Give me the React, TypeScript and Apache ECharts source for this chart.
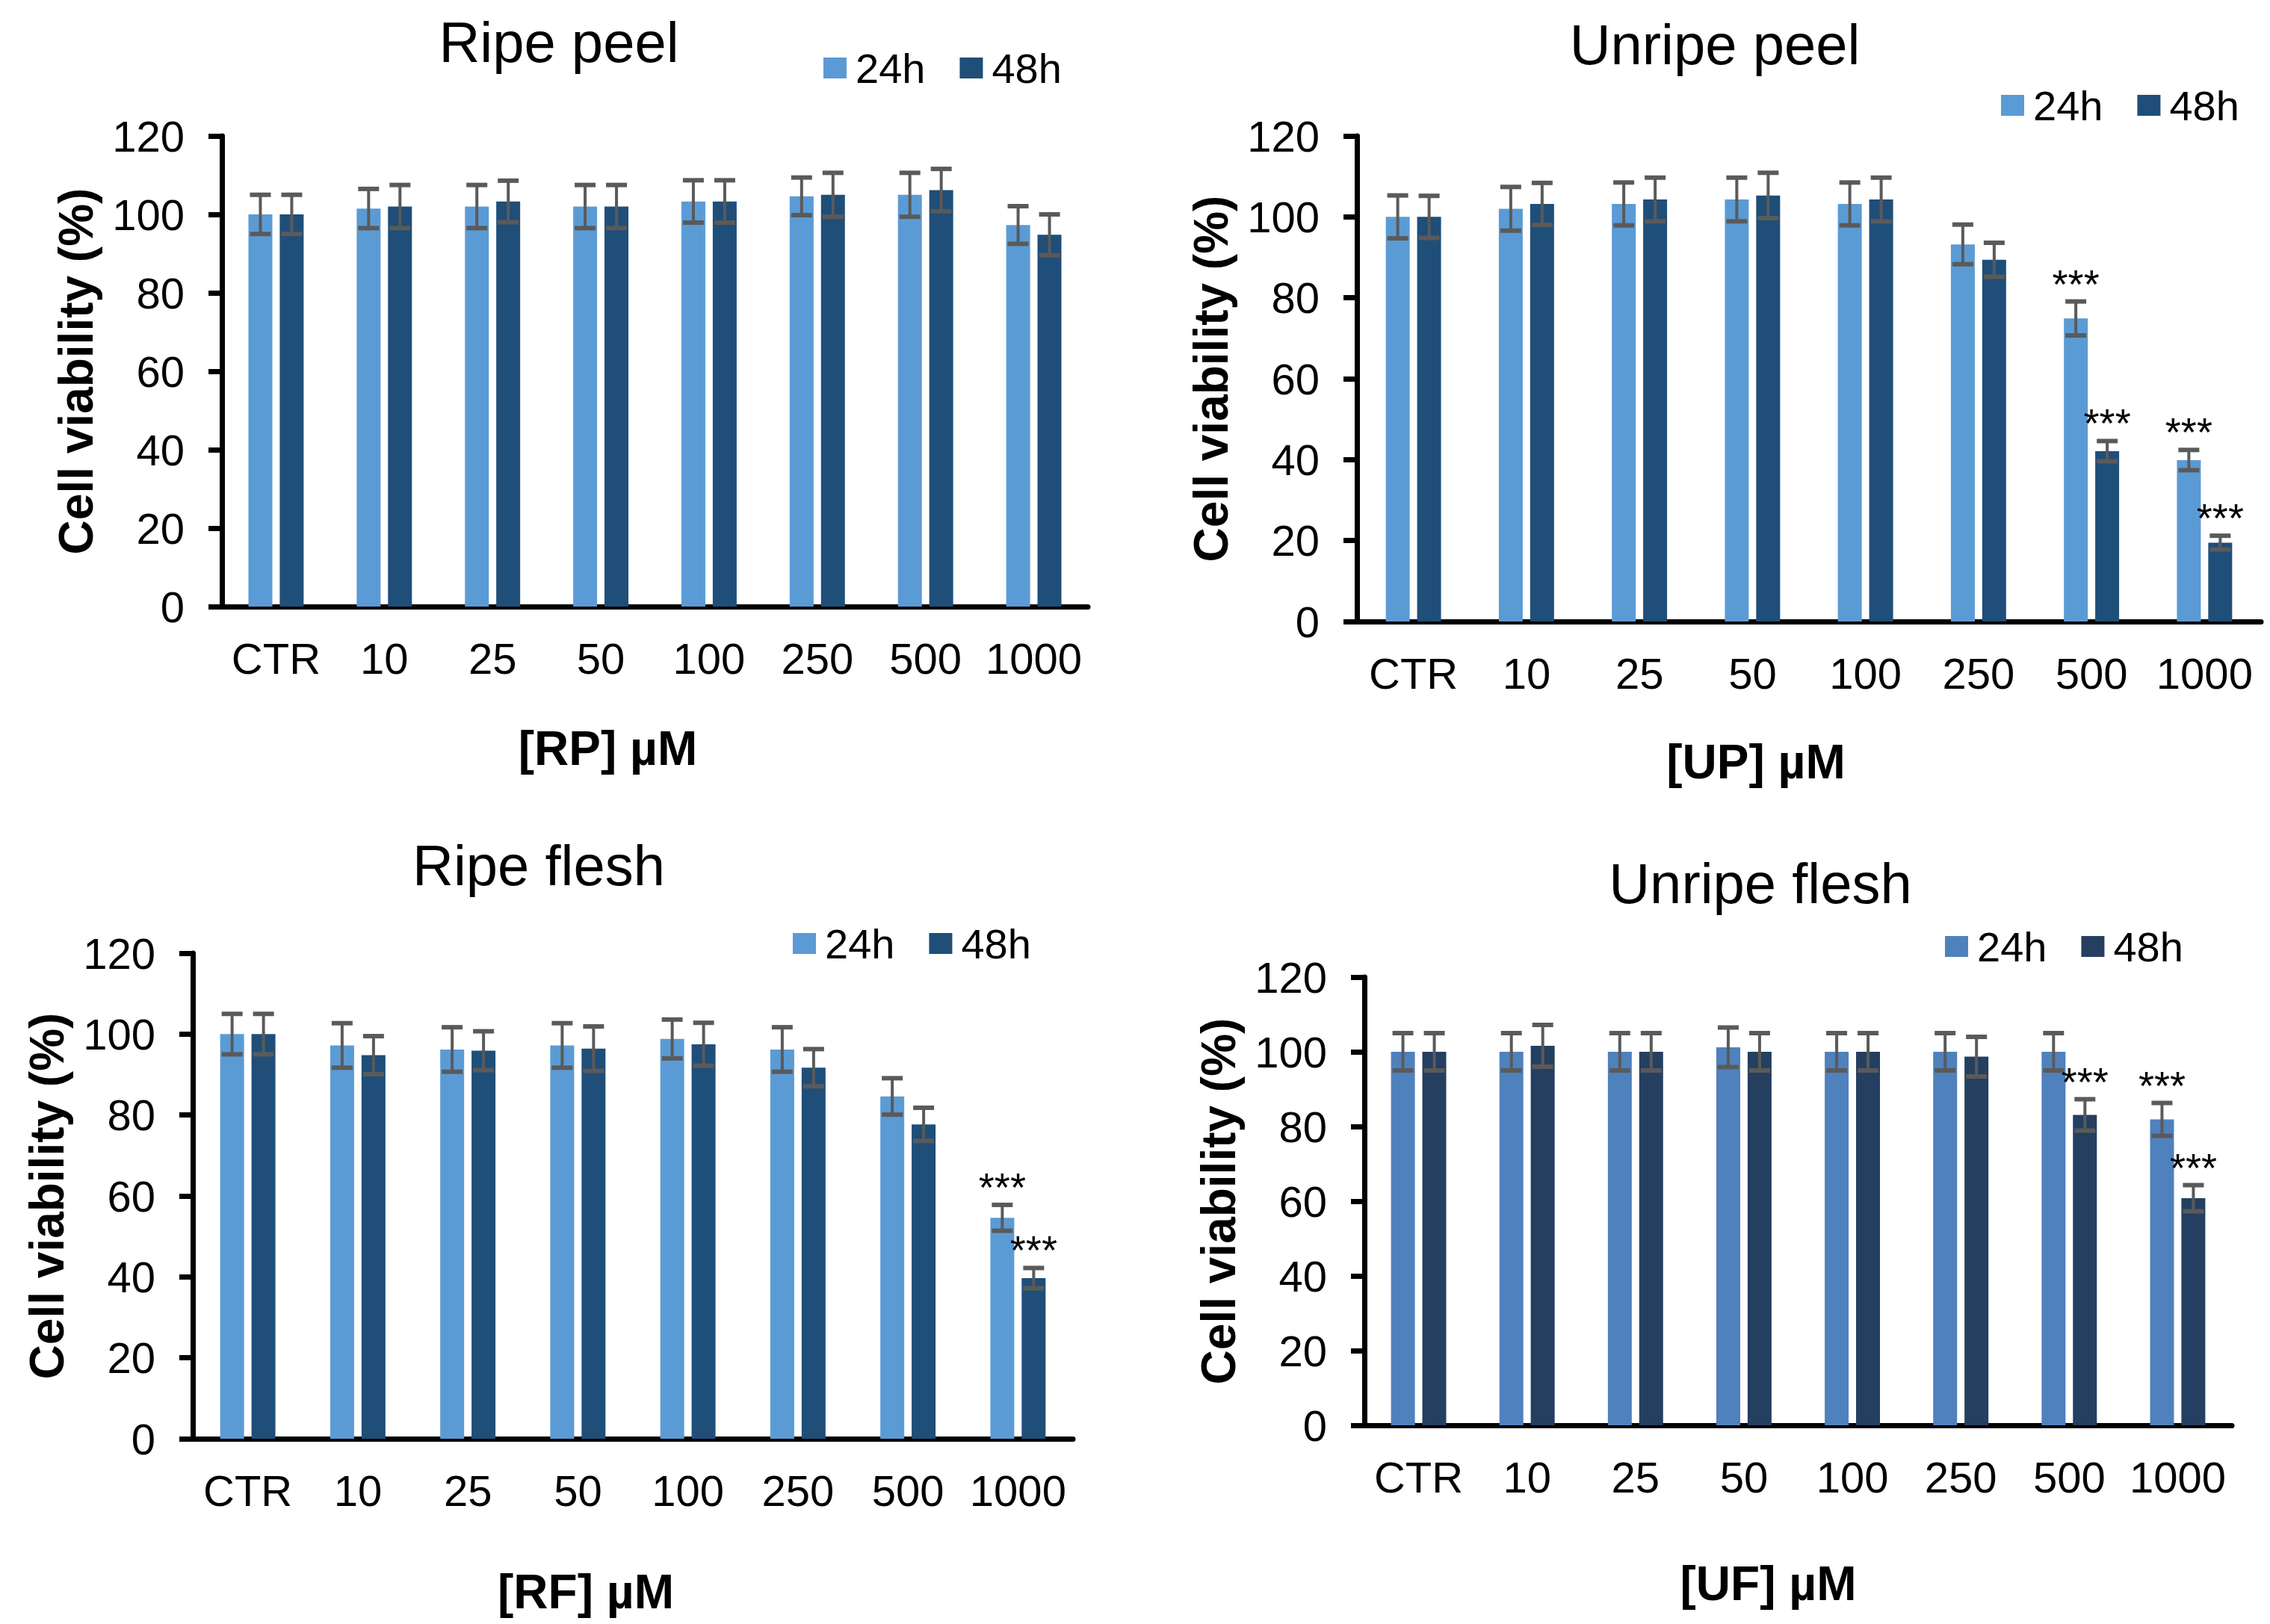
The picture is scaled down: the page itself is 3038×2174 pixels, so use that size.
import React, { useEffect, useRef } from "react";
import * as echarts from "echarts";

// ---------- data ----------
const categories = ["CTR", "10", "25", "50", "100", "250", "500", "1000"];
const legendNames = ["24h", "48h"];

// Ripe peel
const rp24 = [100, 101.5, 102, 102, 103.3, 104.6, 105, 97.3];
const rp24Err = [5, 5, 5.5, 5.5, 5.4, 4.8, 5.6, 4.8];
const rp48 = [100, 102, 103.3, 102, 103.3, 105, 106.2, 94.8];
const rp48Err = [5, 5.5, 5.3, 5.5, 5.4, 5.6, 5.4, 5.2];
const rp24Sig = [0, 0, 0, 0, 0, 0, 0, 0];
const rp48Sig = [0, 0, 0, 0, 0, 0, 0, 0];

// Unripe peel
const up24 = [100, 102, 103.2, 104.3, 103.2, 93.2, 74.9, 39.9];
const up24Err = [5.3, 5.4, 5.3, 5.4, 5.3, 4.9, 4.2, 2.5];
const up48 = [100, 103.2, 104.3, 105.3, 104.3, 89.4, 42.1, 19.5];
const up48Err = [5.2, 5.2, 5.4, 5.6, 5.4, 4.2, 2.5, 1.7];
const up24Sig = [0, 0, 0, 0, 0, 0, 1, 1];
const up48Sig = [0, 0, 0, 0, 0, 0, 1, 1];

// Ripe flesh
const rf24 = [100, 97.2, 96.2, 97.2, 98.8, 96.2, 84.6, 54.6];
const rf24Err = [5, 5.5, 5.5, 5.5, 4.8, 5.5, 4.5, 3.2];
const rf48 = [100, 94.8, 95.9, 96.4, 97.5, 91.7, 77.7, 39.7];
const rf48Err = [5, 4.7, 4.8, 5.5, 5.3, 4.6, 4.1, 2.5];
const rf24Sig = [0, 0, 0, 0, 0, 0, 0, 1];
const rf48Sig = [0, 0, 0, 0, 0, 0, 0, 1];

// Unripe flesh
const uf24 = [100, 100, 100, 101.2, 100, 100, 100, 81.9];
const uf24Err = [5, 5, 5, 5.3, 5, 5, 5, 4.4];
const uf48 = [100, 101.6, 100, 100, 100, 98.7, 83.1, 60.8];
const uf48Err = [5, 5.6, 5, 5, 5, 5.3, 4.2, 3.5];
const uf24Sig = [0, 0, 0, 0, 0, 0, 0, 1];
const uf48Sig = [0, 0, 0, 0, 0, 0, 1, 1];

const titles = ["Ripe peel", "Unripe peel", "Ripe flesh", "Unripe flesh"];
const xNames = ["[RP] µM", "[UP] µM", "[RF] µM", "[UF] µM"];
const yName = "Cell viability (%)";
const yMin = 0;
const yMax = 120;
const yStep = 20;

// ---------- styles / layout ----------
const FONT = "'Liberation Sans', Arial, Helvetica, sans-serif";
const ERR_COLOR = "#5a5a5a";
const BAR_W = 32;
const HALF_OFF = 21;

const panels = [
  {
    v24: rp24, e24: rp24Err, s24: rp24Sig, v48: rp48, e48: rp48Err, s48: rp48Sig,
    c24: "#5b9bd5", c48: "#1f4e79",
    grid: { left: 297, top: 182, width: 1159, height: 630 },
    titleX: 748, titleTop: 18, legendLeft: 1102, legendTop: 63,
    xGap: 158, xShift: 63,
  },
  {
    v24: up24, e24: up24Err, s24: up24Sig, v48: up48, e48: up48Err, s48: up48Sig,
    c24: "#5b9bd5", c48: "#1f4e79",
    grid: { left: 1816, top: 182, width: 1210, height: 650 },
    titleX: 2295, titleTop: 21, legendLeft: 2678, legendTop: 113,
    xGap: 156, xShift: 71,
  },
  {
    v24: rf24, e24: rf24Err, s24: rf24Sig, v48: rf48, e48: rf48Err, s48: rf48Sig,
    c24: "#5b9bd5", c48: "#1f4e79",
    grid: { left: 258, top: 1276, width: 1178, height: 650 },
    titleX: 721, titleTop: 1120, legendLeft: 1061, legendTop: 1235,
    xGap: 173, xShift: 63,
  },
  {
    v24: uf24, e24: uf24Err, s24: uf24Sig, v48: uf48, e48: uf48Err, s48: uf48Sig,
    c24: "#4f81bd", c48: "#243f60",
    grid: { left: 1826, top: 1308, width: 1161, height: 600 },
    titleX: 2356, titleTop: 1144, legendLeft: 2603, legendTop: 1239,
    xGap: 180, xShift: 40,
  },
];

function makeErrorRender(offset: number) {
  return (params: any, api: any) => {
    const idx = api.value(0);
    const v = api.value(1);
    const e = api.value(2);
    const sig = api.value(3);
    const top = api.coord([idx, v + e]);
    const bot = api.coord([idx, v - e]);
    const x = top[0] + offset;
    const hw = 14;
    const children: any[] = [
      { type: "line", shape: { x1: x, y1: top[1], x2: x, y2: bot[1] }, style: { stroke: ERR_COLOR, lineWidth: 4 } },
      { type: "line", shape: { x1: x - hw, y1: top[1], x2: x + hw, y2: top[1] }, style: { stroke: ERR_COLOR, lineWidth: 6 } },
      { type: "line", shape: { x1: x - hw, y1: bot[1], x2: x + hw, y2: bot[1] }, style: { stroke: ERR_COLOR, lineWidth: 6 } },
    ];
    if (sig) {
      children.push({
        type: "text",
        x: x,
        y: top[1] - 24,
        style: {
          text: "***",
          fill: "#000",
          fontSize: 54,
          fontFamily: FONT,
          align: "center",
          verticalAlign: "middle",
        },
      });
    }
    return { type: "group", children };
  };
}

function buildOption() {
  const grid: any[] = [];
  const xAxis: any[] = [];
  const yAxis: any[] = [];
  const series: any[] = [];
  const title: any[] = [];
  const legend: any[] = [];

  panels.forEach((p, i) => {
    grid.push({ ...p.grid, containLabel: false, outerBoundsMode: "none" });
    title.push({
      text: titles[i],
      left: p.titleX,
      top: p.titleTop,
      textAlign: "center",
      padding: 0,
      textStyle: { fontSize: 76, fontWeight: "normal", color: "#000", fontFamily: FONT },
    });
    legend.push({
      show: true,
      left: p.legendLeft,
      top: p.legendTop,
      padding: 0,
      orient: "horizontal",
      icon: "rect",
      itemWidth: 31,
      itemHeight: 28,
      itemGap: 46,
      selectedMode: false,
      textStyle: { fontSize: 56, color: "#000", fontFamily: FONT, padding: [0, 0, 0, 7] },
      data: [
        { name: legendNames[0], itemStyle: { color: p.c24 } },
        { name: legendNames[1], itemStyle: { color: p.c48 } },
      ],
    });
    xAxis.push({
      type: "category",
      gridIndex: i,
      data: categories,
      axisLine: { show: true, lineStyle: { color: "#000", width: 7 } },
      axisTick: { show: false },
      axisLabel: { fontSize: 58, color: "#000", fontFamily: FONT, margin: 40, interval: 0 },
      splitLine: { show: false },
      name: xNames[i],
      nameLocation: "middle",
      nameGap: p.xGap,
      nameTextStyle: {
        fontSize: 64,
        fontWeight: "bold",
        color: "#000",
        fontFamily: FONT,
        padding: [0, p.xShift * 2, 0, 0],
      },
    });
    yAxis.push({
      type: "value",
      gridIndex: i,
      min: yMin,
      max: yMax,
      interval: yStep,
      axisLine: { show: true, lineStyle: { color: "#000", width: 7 } },
      axisTick: { show: true, length: 18, lineStyle: { color: "#000", width: 7 } },
      axisLabel: { fontSize: 58, color: "#000", fontFamily: FONT, margin: 50 },
      splitLine: { show: false },
      name: yName,
      nameLocation: "middle",
      nameGap: 163,
      nameTextStyle: { fontSize: 64, fontWeight: "bold", color: "#000", fontFamily: FONT },
    });
    series.push({
      type: "bar",
      name: legendNames[0],
      xAxisIndex: i,
      yAxisIndex: i,
      data: p.v24,
      barWidth: BAR_W,
      barGap: "31%",
      itemStyle: { color: p.c24 },
    });
    series.push({
      type: "bar",
      name: legendNames[1],
      xAxisIndex: i,
      yAxisIndex: i,
      data: p.v48,
      barWidth: BAR_W,
      barGap: "31%",
      itemStyle: { color: p.c48 },
    });
    series.push({
      type: "custom",
      name: "err24_" + i,
      xAxisIndex: i,
      yAxisIndex: i,
      z: 5,
      clip: false,
      encode: { x: 0, y: 1 },
      data: p.v24.map((v, j) => [j, v, p.e24[j], p.s24[j]]),
      renderItem: makeErrorRender(-HALF_OFF),
    });
    series.push({
      type: "custom",
      name: "err48_" + i,
      xAxisIndex: i,
      yAxisIndex: i,
      z: 5,
      clip: false,
      encode: { x: 0, y: 1 },
      data: p.v48.map((v, j) => [j, v, p.e48[j], p.s48[j]]),
      renderItem: makeErrorRender(HALF_OFF),
    });
  });

  return {
    animation: false,
    backgroundColor: "#ffffff",
    title,
    legend,
    grid,
    xAxis,
    yAxis,
    series,
  };
}

export default function App() {
  const ref = useRef<HTMLDivElement | null>(null);
  useEffect(() => {
    if (!ref.current) return;
    const chart = echarts.init(ref.current, null, { renderer: "svg" });
    chart.setOption(buildOption() as any);
    return () => {
      chart.dispose();
    };
  }, []);
  return (
    <div
      ref={ref}
      style={{ position: "absolute", left: 0, top: 0, width: 3038, height: 2174, background: "#fff" }}
    />
  );
}
